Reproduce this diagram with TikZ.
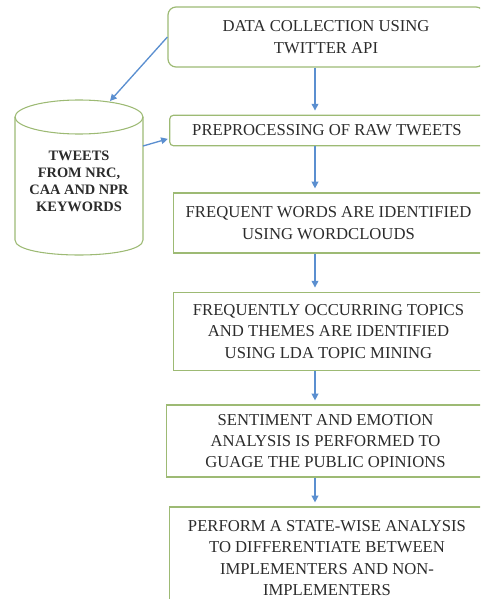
\documentclass[tikz,border=0pt]{standalone}
\usepackage{fontspec}
\setmainfont{Liberation Serif}
\usetikzlibrary{arrows.meta,positioning,calc}
\definecolor{boxgreen}{HTML}{9DBA74}
\definecolor{arrowblue}{HTML}{5B8FD0}
\definecolor{textgray}{HTML}{2B2B2B}
\tikzset{
  stage/.style={draw=boxgreen, line width=0.9pt, align=center, inner sep=0pt, text=textgray, font=\fontsize{12.5}{16}\selectfont},
  flow/.style={-{Triangle[length=5pt,width=5pt]}, arrowblue, line width=1pt, shorten >=3pt},
}
\begin{document}
\begin{tikzpicture}[x=0.75pt,y=-0.75pt]
    \clip (0,0) rectangle (480,599);
    % process boxes
    \node[stage, rounded corners=6pt, minimum width=237pt, minimum height=45pt] (collect) at (326,37) {DATA COLLECTION USING\\TWITTER API};
    \node[stage, rounded corners=3pt, minimum width=236pt, minimum height=23pt] (prep) at (327,130.5) {PREPROCESSING OF RAW TWEETS};
    \node[stage, minimum width=233pt, minimum height=45pt] (words) at (328.5,223) {FREQUENT WORDS ARE IDENTIFIED\\USING WORDCLOUDS};
    \node[stage, minimum width=233pt, minimum height=59pt] (topics) at (328.5,331.5) {FREQUENTLY OCCURRING TOPICS\\AND THEMES ARE IDENTIFIED\\USING LDA TOPIC MINING};
    \node[stage, minimum width=238pt, minimum height=54pt] (sentiment) at (325.5,441) {SENTIMENT AND EMOTION\\ANALYSIS IS PERFORMED TO\\GUAGE THE PUBLIC OPINIONS};
    \node[stage, minimum width=236pt, minimum height=76.5pt] (states) at (327,558) {PERFORM A STATE-WISE ANALYSIS\\TO DIFFERENTIATE BETWEEN\\IMPLEMENTERS AND NON-\\IMPLEMENTERS};

    % tweet store
    \draw[boxgreen, line width=0.8pt] (15,117) -- (15,240) .. controls (15,260) and (143,260) .. (143,240) -- (143,117);
    \draw[boxgreen, line width=0.8pt] (79,117) ellipse [x radius=64, y radius=17];
    \node[align=center, text=textgray, font=\bfseries\fontsize{10.8}{12.8}\selectfont] (tweets) at (79,181) {TWEETS\\FROM NRC,\\CAA AND NPR\\KEYWORDS};
    \coordinate (dbtop) at (110,101);
    \coordinate (dbside) at (143,146);

    % arrows
    \coordinate (spine) at (315,0);
    \draw[flow, shorten >=0pt] (collect.west) -- (dbtop);
    \draw[flow, shorten >=1pt] (dbside) -- ([yshift=-6pt]prep.west);
    \draw[flow] (collect.south -| spine) -- (prep.north -| spine);
    \draw[flow] (prep.south -| spine) -- (words.north -| spine);
    \draw[flow] (words.south -| spine) -- (topics.north -| spine);
    \draw[flow] (topics.south -| spine) -- (sentiment.north -| spine);
    \draw[flow] (sentiment.south -| spine) -- (states.north -| spine);
\end{tikzpicture}
\end{document}
